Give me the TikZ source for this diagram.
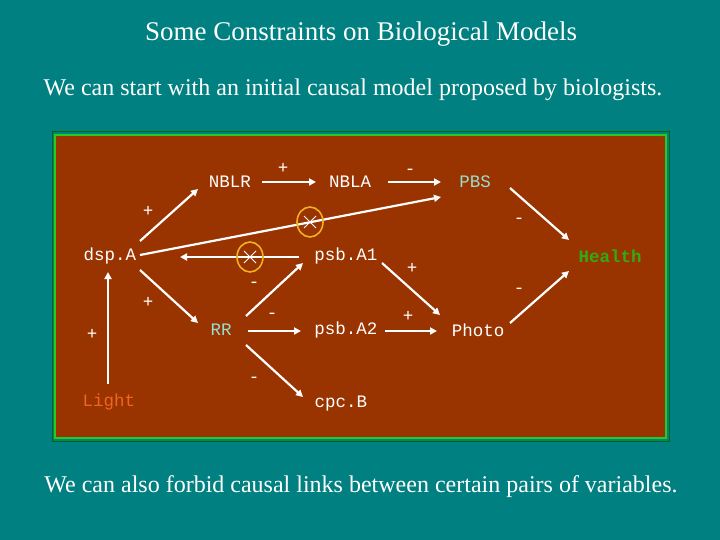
\documentclass[tikz,border=0pt]{standalone}
\usepackage{fontspec}
\setmainfont{Liberation Serif}
\newfontfamily\mono{Liberation Mono}
\usetikzlibrary{arrows.meta}
\definecolor{teal0}{HTML}{008080}
\definecolor{brown0}{HTML}{993300}
\definecolor{gframe}{HTML}{22CC22}
\definecolor{cyan0}{HTML}{99DDCC}
\definecolor{green0}{HTML}{33AA11}
\definecolor{orange0}{HTML}{EE6622}
\definecolor{ring}{HTML}{F0B020}
\begin{document}
\begin{tikzpicture}[x=1pt,y=-1pt,
 var/.style={font=\mono\fontsize{17.5}{20}\selectfont,text=white,inner sep=0},
 sgn/.style={font=\mono\fontsize{17.5}{20}\selectfont,text=white,inner sep=0},
 arr/.style={draw=white,line width=2.2pt,-{Triangle[length=7pt,width=7pt]}},
 cross/.style={draw=ring,line width=1.6pt}]
\useasboundingbox (0,0) rectangle (720,540);
\fill[teal0] (0,0) rectangle (720,540);
\node[font=\fontsize{27}{30}\selectfont,text=white] (title) at (361,34) {Some Constraints on Biological Models};
\node[font=\fontsize{24}{28}\selectfont,text=white] (t1) at (353,90) {We can start with an initial causal model proposed by biologists.};
\node[font=\fontsize{24}{28}\selectfont,text=white] (t2) at (361,487) {We can also forbid causal links between certain pairs of variables.};
\draw[black!60!green,line width=1pt] (52,132) rectangle (669,441);
\draw[gframe,line width=2pt,fill=brown0] (55,135) rectangle (666,438);
\node[var] (nblr) at (230,182) {NBLR};
\node[var] (nbla) at (350,182) {NBLA};
\node[var,text=cyan0] (pbs) at (475,182) {PBS};
\node[var] (dspa) at (110,256) {dsp.A};
\node[var] (psba1) at (346,256) {psb.A1};
\node[var,text=green0,font=\mono\bfseries\fontsize{17.5}{20}\selectfont] (health) at (610,256) {Health};
\node[var,text=cyan0] (rr) at (221,330) {RR};
\node[var] (psba2) at (346,330) {psb.A2};
\node[var] (photo) at (478,330) {Photo};
\node[var,text=orange0] (light) at (109,402) {Light};
\node[var] (cpcb) at (341,404) {cpc.B};
\foreach \n/\x/\y in {a1/262/182,a2/316/182,b1/388/182,b2/441/182,c1/140/241,c2/198/189,d1/140/255,d2/441/197,e1/299/257,e2/180/257,f1/140/270,f2/198/323,g1/108/384,g2/108/272,h1/246/316,h2/303/263,i1/248/331,i2/301/331,j1/246/345,j2/303/397,k1/382/263,k2/440/315,l1/385/331,l2/437/331,m1/510/188,m2/569/240,n1/510/323,n2/569/271}
  \coordinate (\n) at (\x,\y);
\foreach \s/\t in {a1/a2,b1/b2,c1/c2,d1/d2,e1/e2,f1/f2,g1/g2,h1/h2,i1/i2,j1/j2,k1/k2,l1/l2,m1/m2,n1/n2}
  \draw[arr] (\s) -- (\t);
\foreach \n/\x/\y in {x1/310/222,x2/250/257}{
  \coordinate (\n) at (\x,\y);
  \draw[cross] (\n) ellipse (13pt and 15pt);
  \draw[white,line width=0.8pt] (\x-6,\y-6) -- (\x+6,\y+6) (\x-6,\y+6) -- (\x+6,\y-6);}
\foreach \n/\x/\y/\t in {s1/283/168/+,s2/410/172/-,s3/148/211/+,s4/519/221/-,s5/254/285/-,s6/148/302/+,s7/92/334/+,s8/272/316/-,s9/412/268/+,s10/408/316/+,s11/519/291/-,s12/254/380/-}
  \node[sgn] (\n) at (\x,\y) {\t};
\end{tikzpicture}
\end{document}
